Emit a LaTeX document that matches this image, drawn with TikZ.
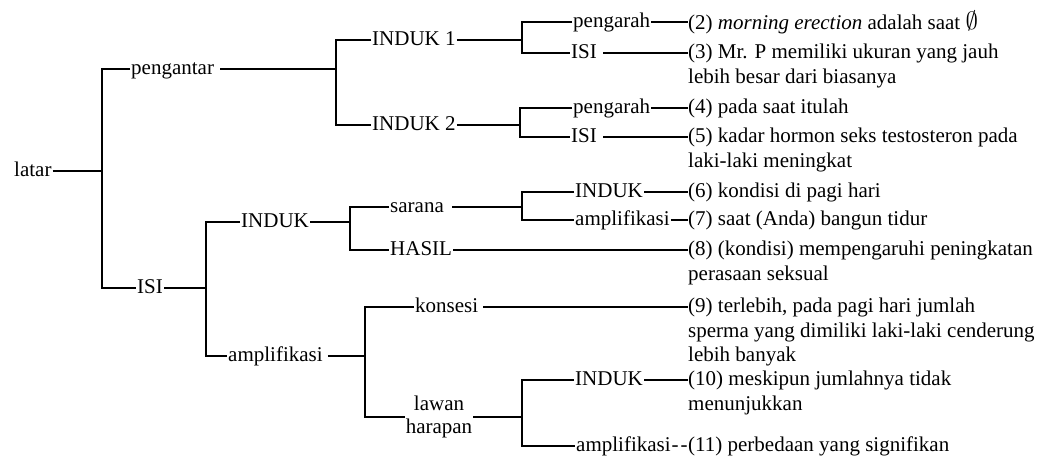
\documentclass[tikz,border=0pt]{standalone}
\usepackage{fontspec}
\setmainfont{Liberation Serif}
\begin{document}
\begin{tikzpicture}[x=1pt,y=-1pt,
  every node/.style={font=\fontsize{21pt}{24.5pt}\selectfont},
  lbl/.style={anchor=west, inner xsep=1pt, inner ysep=0pt, text height=15pt, text depth=5pt},
  txt/.style={anchor=north west, inner sep=0pt, align=left, yshift=11.8pt},
  link/.style={line width=1.1pt}]
\useasboundingbox (0,0) rectangle (1052,458);

% labels of the tree
\node[lbl] (latar) at (13,171) {latar};
\node[lbl] (peng)  at (130,69) {pengantar\kern5pt};
\node[lbl] (isi0)  at (136,288) {ISI};
\node[lbl] (ind1)  at (371,40) {INDUK 1};
\node[lbl] (ind2)  at (371,125) {INDUK 2};
\node[lbl] (p1)    at (572,22) {pengarah};
\node[lbl] (isi1)  at (570,53) {ISI\kern5pt};
\node[lbl] (p2)    at (572,108) {pengarah};
\node[lbl] (isi2)  at (570,137) {ISI\kern5pt};
\node[lbl] (ind3)  at (240,222) {INDUK};
\node[lbl] (amp0)  at (227,356) {amplifikasi\kern4pt};
\node[lbl] (sar)   at (389,207) {sarana\kern7pt};
\node[lbl] (hasil) at (389,250) {HASIL};
\node[lbl] (ind4)  at (574,192) {INDUK};
\node[lbl] (amp1)  at (574,220) {amplifikasi};
\node[lbl] (kons)  at (414,307) {konsesi\kern4pt};
\node[inner sep=1pt, align=center, font=\fontsize{21pt}{23pt}\selectfont] (lawan) at (439,417) {lawan\\harapan};
\node[lbl] (ind5)  at (574,380) {INDUK};
\node[lbl] (amp2)  at (575,446) {amplifikasi\kern1pt-\kern2pt-};

% clause texts
\node[txt] (t2)  at (688,22)  {\strut(2) \textit{morning erection} adalah saat {\fontsize{27pt}{24.5pt}\selectfont$\emptyset$}};
\node[txt] (t3)  at (688,53)  {\strut(3) Mr. P memiliki ukuran yang jauh\\lebih besar dari biasanya};
\node[txt] (t4)  at (688,108) {\strut(4) pada saat itulah};
\node[txt] (t5)  at (688,137) {\strut(5) kadar hormon seks testosteron pada\\laki-laki meningkat};
\node[txt] (t6)  at (688,192) {\strut(6) kondisi di pagi hari};
\node[txt] (t7)  at (688,220) {\strut(7) saat (Anda) bangun tidur};
\node[txt] (t8)  at (688,250) {\strut(8) (kondisi) mempengaruhi peningkatan\\perasaan seksual};
\node[txt] (t9)  at (688,307) {\strut(9) terlebih, pada pagi hari jumlah\\sperma yang dimiliki laki-laki cenderung\\lebih banyak};
\node[txt] (t10) at (688,380) {\strut(10) meskipun jumlahnya tidak\\menunjukkan};
\node[txt] (t11) at (688,446) {\strut(11) perbedaan yang signifikan};

% branch points
\coordinate (b1) at (102,171);
\coordinate (b2) at (336,69);
\coordinate (b3) at (522,40);
\coordinate (b4) at (520,125);
\coordinate (b5) at (206,288);
\coordinate (b6) at (350,222);
\coordinate (b7) at (522,207);
\coordinate (b8) at (365,356);
\coordinate (b9) at (522,417);

\begin{scope}[link]
  \draw (latar.east) -- (b1);
  \draw (peng.west) -| (b1) |- (isi0.west);
  \draw (peng.east) -- (b2);
  \draw (ind1.west) -| (b2) |- (ind2.west);
  \draw (ind1.east) -- (b3);
  \draw (p1.west) -| (b3) |- (isi1.west);
  \draw (ind2.east) -- (b4);
  \draw (p2.west) -| (b4) |- (isi2.west);
  \draw (isi0.east) -- (b5);
  \draw (ind3.west) -| (b5) |- (amp0.west);
  \draw (ind3.east) -- (b6);
  \draw (sar.west) -| (b6) |- (hasil.west);
  \draw (sar.east) -- (b7);
  \draw (ind4.west) -| (b7) |- (amp1.west);
  \draw (amp0.east) -- (b8);
  \draw (kons.west) -| (b8) |- (lawan.west);
  \draw (lawan.east) -- (b9);
  \draw (ind5.west) -| (b9) |- (amp2.west);
  % leaves to clauses
  \draw (p1.east) -- (p1.east -| t2.west);
  \draw (isi1.east) -- (isi1.east -| t3.west);
  \draw (p2.east) -- (p2.east -| t4.west);
  \draw (isi2.east) -- (isi2.east -| t5.west);
  \draw (ind4.east) -- (ind4.east -| t6.west);
  \draw (amp1.east) -- (amp1.east -| t7.west);
  \draw (hasil.east) -- (hasil.east -| t8.west);
  \draw (kons.east) -- (kons.east -| t9.west);
  \draw (ind5.east) -- (ind5.east -| t10.west);
\end{scope}
\end{tikzpicture}
\end{document}
